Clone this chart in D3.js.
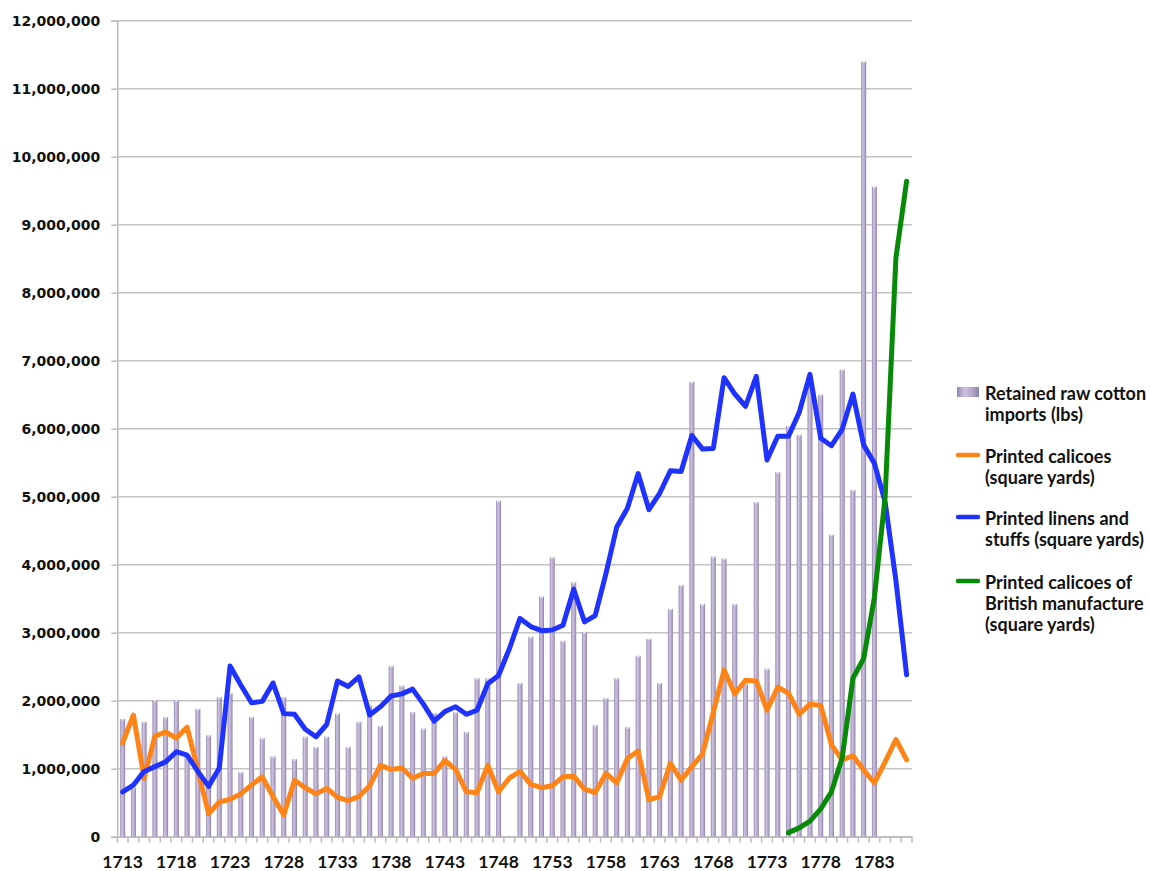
<!DOCTYPE html>
<html>
<head>
<meta charset="utf-8">
<script src="https://cdn.jsdelivr.net/npm/d3@7"></script>
<style>
  body { margin: 0; background: #fff; }
  svg { display: block; }
</style>
</head>
<body>
<div id="chart"></div>
<script>
// values in millions; null = no data
const years = d3.range(1713, 1787);
const cotton = [1.73, 0.72, 1.69, 2.01, 1.76, 2.01, 1.18, 1.88, 1.49, 2.05,
  2.11, 0.95, 1.76, 1.45, 1.18, 2.05, 1.14, 1.47, 1.32, 1.47,
  1.81, 1.32, 1.69, 1.93, 1.63, 2.51, 2.22, 1.83, 1.59, 1.82,
  1.18, 1.83, 1.54, 2.33, 2.33, 4.94, null, 2.26, 2.94, 3.53,
  4.11, 2.88, 3.74, 3.01, 1.64, 2.04, 2.33, 1.61, 2.66, 2.91,
  2.26, 3.35, 3.70, 6.69, 3.42, 4.12, 4.09, 3.42, 2.25, 4.92,
  2.47, 5.36, 6.04, 5.91, 6.65, 6.50, 4.44, 6.87, 5.10, 11.40,
  9.56, null, null, null];
const calicoes = [1.38, 1.79, 0.86, 1.48, 1.54, 1.45, 1.61, 0.98, 0.34, 0.51,
  0.55, 0.63, 0.76, 0.88, 0.59, 0.32, 0.83, 0.72, 0.63, 0.71,
  0.58, 0.53, 0.59, 0.75, 1.05, 0.99, 1.01, 0.86, 0.93, 0.93,
  1.12, 0.99, 0.66, 0.65, 1.05, 0.66, 0.86, 0.96, 0.77, 0.72,
  0.75, 0.88, 0.89, 0.70, 0.65, 0.93, 0.79, 1.15, 1.26, 0.54,
  0.59, 1.08, 0.83, 1.03, 1.22, 1.83, 2.45, 2.10, 2.30, 2.29,
  1.86, 2.20, 2.11, 1.80, 1.95, 1.93, 1.35, 1.13, 1.19, 0.98,
  0.79, 1.10, 1.43, 1.13];
const linens = [0.66, 0.76, 0.96, 1.03, 1.10, 1.25, 1.20, 0.96, 0.74, 1.01,
  2.51, 2.23, 1.97, 1.99, 2.26, 1.81, 1.80, 1.58, 1.47, 1.65,
  2.29, 2.21, 2.35, 1.79, 1.91, 2.07, 2.10, 2.17, 1.95, 1.70,
  1.84, 1.91, 1.80, 1.86, 2.25, 2.37, 2.76, 3.21, 3.09, 3.03,
  3.04, 3.11, 3.64, 3.16, 3.25, 3.87, 4.55, 4.83, 5.34, 4.81,
  5.05, 5.38, 5.37, 5.90, 5.70, 5.71, 6.75, 6.51, 6.33, 6.77,
  5.54, 5.89, 5.89, 6.24, 6.80, 5.86, 5.75, 5.99, 6.51, 5.76,
  5.49, 4.92, 3.77, 2.38];
const britishYears = d3.range(1775, 1787);
const british = [0.06, 0.13, 0.23, 0.41, 0.66, 1.16, 2.33, 2.62, 3.52, 5.00, 8.51, 9.64];
const yTicks = d3.range(0, 13);
const legendItems = [
  {type: "bar", color: "#b4a7cb", lines: ["Retained raw cotton", "imports (lbs)"]},
  {type: "line", color: "#ff8418", lines: ["Printed calicoes", "(square yards)"]},
  {type: "line", color: "#1f32ff", lines: ["Printed linens and", "stuffs (square yards)"]},
  {type: "line", color: "#078a07", lines: ["Printed calicoes of", "British manufacture", "(square yards)"]}
];

const width = 1150, height = 871;
const svg = d3.select("#chart").append("svg")
  .attr("width", width).attr("height", height);

const x = d3.scaleBand().domain(years).range([117.3, 912]).padding(0);
const cx = yr => x(yr) + x.bandwidth() / 2;
const y = d3.scaleLinear().domain([0, 12]).range([836.7, 20.7]);

const defs = svg.append("defs");
const grad = defs.append("linearGradient").attr("id", "barGrad")
  .attr("x1", "0%").attr("x2", "100%").attr("y1", "0%").attr("y2", "0%");
grad.append("stop").attr("offset", "0%").attr("stop-color", "#9586b1");
grad.append("stop").attr("offset", "35%").attr("stop-color", "#cdc3de");
grad.append("stop").attr("offset", "70%").attr("stop-color", "#b3a6ca");
grad.append("stop").attr("offset", "100%").attr("stop-color", "#8c7ea8");

// gridlines
svg.append("g").selectAll("line").data(yTicks).join("line")
  .attr("x1", 117.3).attr("x2", 912)
  .attr("y1", d => y(d)).attr("y2", d => y(d))
  .attr("stroke", "#c4c4c4").attr("stroke-width", 1.5);

// y axis
const yAxis = svg.append("g").attr("transform", "translate(117.3,0)")
  .call(d3.axisLeft(y).tickValues(yTicks).tickSize(6)
    .tickFormat(d => d3.format(",")(d * 1e6)));
yAxis.select(".domain").attr("stroke", "#bdbdbd").attr("stroke-width", 1.5);
yAxis.selectAll(".tick line").attr("stroke", "#bdbdbd").attr("stroke-width", 1.5);
yAxis.selectAll(".tick text")
  .attr("x", -17)
  .style("font-family", "'DejaVu Sans', sans-serif")
  .style("font-weight", "bold").style("font-size", "14px").attr("fill", "#111");

// x axis
const xAxis = svg.append("g").attr("transform", `translate(0,${y(0)})`)
  .call(d3.axisBottom(x).tickSize(0)
    .tickValues(years.filter(d => (d - 1713) % 5 === 0)));
xAxis.select(".domain").attr("stroke", "#bdbdbd").attr("stroke-width", 1.5);
xAxis.selectAll(".tick text")
  .attr("y", 31).attr("dy", null)
  .style("font-family", "Lato, sans-serif")
  .style("font-weight", "bold").style("font-size", "17.5px").attr("fill", "#111");
// category boundary ticks
svg.append("g").selectAll("line").data(years.concat([1787])).join("line")
  .attr("x1", d => d === 1787 ? 912 : x(d)).attr("x2", d => d === 1787 ? 912 : x(d))
  .attr("y1", y(0)).attr("y2", y(0) + 6)
  .attr("stroke", "#bdbdbd").attr("stroke-width", 1.5);

// bars
const barW = 5;
const barData = years.map((yr, i) => ({yr, v: cotton[i]})).filter(d => d.v != null);
svg.append("g").selectAll("rect").data(barData).join("rect")
  .attr("x", d => cx(d.yr) - barW / 2)
  .attr("y", d => y(d.v))
  .attr("width", barW)
  .attr("height", d => y(0) - y(d.v))
  .attr("fill", "url(#barGrad)");
svg.append("g").selectAll("rect").data(barData).join("rect")
  .attr("x", d => cx(d.yr) - barW / 2 + 1)
  .attr("y", d => y(d.v))
  .attr("width", barW - 2).attr("height", 1.5)
  .attr("fill", "#e6e0ef");

// lines
const line = d3.line().x(d => cx(d[0])).y(d => y(d[1]));
const series = [
  {color: "#ff8418", pts: years.map((yr, i) => [yr, calicoes[i]])},
  {color: "#1f32ff", pts: years.map((yr, i) => [yr, linens[i]])},
  {color: "#078a07", pts: britishYears.map((yr, i) => [yr, british[i]])}
];
svg.append("g").selectAll("path").data(series).join("path")
  .attr("d", d => line(d.pts))
  .attr("fill", "none").attr("stroke", d => d.color)
  .attr("stroke-width", 5).attr("stroke-linejoin", "round").attr("stroke-linecap", "round");

// legend
const legendTop = [392, 455, 517, 581];
const lg = svg.append("g");
legendItems.forEach((it, k) => {
  const g = lg.append("g").attr("transform", `translate(957,${legendTop[k]})`);
  if (it.type === "bar") {
    g.append("rect").attr("x", 0).attr("y", -5).attr("width", 22).attr("height", 10)
      .attr("fill", "url(#barGrad)");
  } else {
    g.append("line").attr("x1", 1).attr("x2", 21).attr("y1", 0).attr("y2", 0)
      .attr("stroke", it.color).attr("stroke-width", 4.5).attr("stroke-linecap", "round");
  }
  g.append("text").attr("x", 28).attr("y", 0)
    .style("font-family", "Lato, sans-serif").style("font-weight", "bold")
    .style("font-size", "18px").attr("fill", "#111")
    .selectAll("tspan").data(it.lines).join("tspan")
    .attr("x", 28).attr("dy", (d, j) => j === 0 ? "0.45em" : "1.17em")
    .text(d => d);
});
</script>
</body>
</html>
